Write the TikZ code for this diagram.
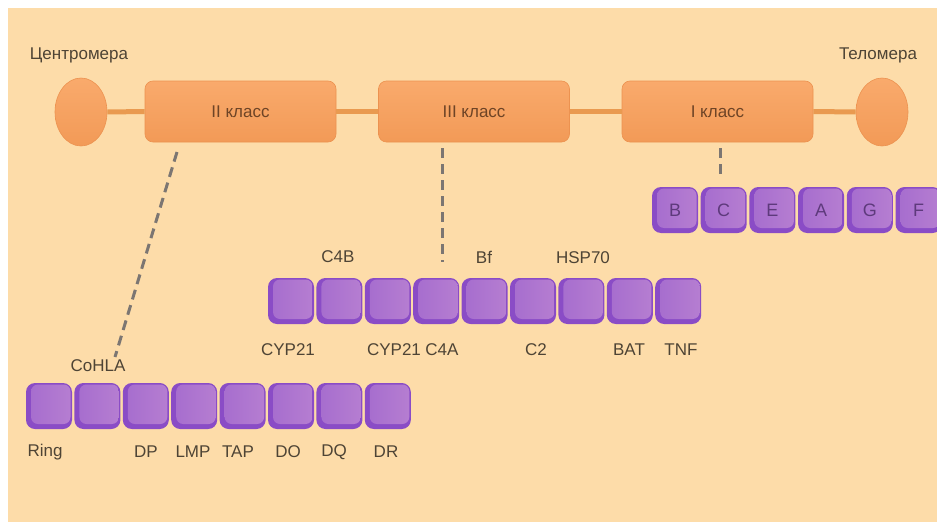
\documentclass[tikz,border=0pt]{standalone}
\usepackage{fontspec}
\setmainfont{Liberation Sans}
\usetikzlibrary{shapes.geometric}
\definecolor{bgpeach}{HTML}{FDDCA9}
\definecolor{chromoline}{HTML}{E99A50}
\definecolor{orangetop}{HTML}{F9AA6C}
\definecolor{orangebot}{HTML}{F29A57}
\definecolor{orangeedge}{HTML}{EC9250}
\definecolor{purpledark}{HTML}{8A4CC6}
\definecolor{purplelight}{HTML}{B67ED1}
\definecolor{purplemid}{HTML}{A56CCE}
\definecolor{labeltext}{HTML}{4E4435}
\definecolor{classtext}{HTML}{6E4426}
\definecolor{genetext}{HTML}{5E3A7C}
\definecolor{dashgray}{HTML}{7C7672}
\begin{document}
\begin{tikzpicture}[x=1pt,y=-1pt,
  classbox/.style={rectangle, rounded corners=8pt, minimum width=191pt, minimum height=61pt,
    top color=orangetop, bottom color=orangebot, draw=orangeedge, line width=0.6pt,
    text=classtext, font=\fontsize{17}{17}\selectfont},
  endcap/.style={ellipse, minimum width=52pt, minimum height=68pt, inner sep=0pt,
    top color=orangetop, bottom color=orangebot, draw=orangeedge, line width=0.6pt},
  gene/.style={rectangle, rounded corners=9pt, minimum size=46pt, inner sep=0pt,
    fill=purpledark, text=genetext, font=\fontsize{18}{18}\selectfont,
    path picture={\shade[left color=purplemid, right color=purplelight, rounded corners=7pt]
      ([shift={(5,-5)}]path picture bounding box.south west) rectangle
      ([shift={(-1.5,1.5)}]path picture bounding box.north east);}},
  lbl/.style={text=labeltext, font=\fontsize{17}{17}\selectfont, inner sep=0pt},
  chromo/.style={draw=chromoline, line width=5pt},
  link/.style={draw=dashgray, line width=3pt, dash pattern=on 10pt off 6pt}]
\useasboundingbox (0,0) rectangle (937,522);
\fill[white] (0,0) rectangle (937,522);
\fill[bgpeach] (8,8) rectangle (945,530);

% chromosome: centromere, three class regions, telomere
\node[endcap] (cen) at (81,112) {};
\node[endcap] (tel) at (882,112) {};
\node[classbox] (cls2) at (240.5,111.5) {II класс};
\node[classbox] (cls3) at (474,111.5) {III класс};
\node[classbox] (cls1) at (717.5,111.5) {I класс};
\path[chromo] (cen.east) -- (cls2.west);
\path[chromo] (cls2.east) -- (cls3.west);
\path[chromo] (cls3.east) -- (cls1.west);
\path[chromo] (cls1.east) -- (tel.west);

\node[lbl] (lcen) at (79,55) {Центромера};
\node[lbl] (ltel) at (878,55) {Теломера};

% class I genes
\foreach \g [count=\i from 0] in {B,C,E,A,G,F}
  \node[gene] (k1g\i) at ({675+\i*48.7},210) {\g};

% class III genes
\foreach \i in {0,...,8}
  \node[gene] (k3g\i) at ({291+\i*48.4},301) {};

% class II genes
\foreach \i in {0,...,7}
  \node[gene] (k2g\i) at ({49+\i*48.4},406) {};

% links from the chromosome regions to the gene maps
\coordinate (d2a) at (177,152);
\coordinate (d2b) at (115,357);
\coordinate (d3a) at (442,148);
\coordinate (d3b) at (442,262);
\coordinate (d1a) at (720,148);
\coordinate (d1b) at (720,175);
\path[link] (d2a) -- (d2b);
\path[link] (d3a) -- (d3b);
\path[link] (d1a) -- (d1b);

% class III labels
\node[lbl] (lc4b) at (338,257) {C4B};
\node[lbl] (lbf) at (484,257) {Bf};
\node[lbl] (lhsp) at (583,258) {HSP70};
\node[lbl] (lcyp1) at (288,350) {CYP21};
\node[lbl] (lcyp2) at (394,350) {CYP21};
\node[lbl] (lc4a) at (442,350) {C4A};
\node[lbl] (lc2) at (536,350) {C2};
\node[lbl] (lbat) at (629,350) {BAT};
\node[lbl] (ltnf) at (681,350) {TNF};

% class II labels
\node[lbl] (lcohla) at (98,366) {CoHLA};
\node[lbl] (lring) at (45,452) {Ring};
\node[lbl] (ldp) at (146,452) {DP};
\node[lbl] (llmp) at (193,452) {LMP};
\node[lbl] (ltap) at (238,452) {TAP};
\node[lbl] (ldo) at (288,452) {DO};
\node[lbl] (ldq) at (334,452) {DQ};
\node[lbl] (ldr) at (386,452) {DR};
\end{tikzpicture}
\end{document}
